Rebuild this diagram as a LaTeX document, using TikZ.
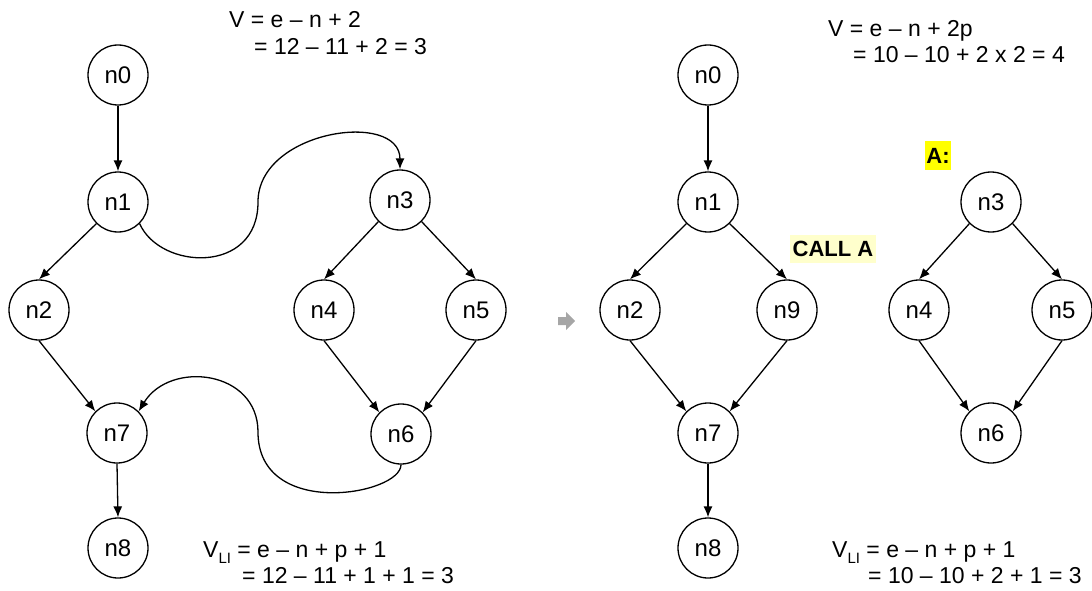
\documentclass[tikz,border=0pt]{standalone}
\usepackage{fontspec}
\setmainfont{Liberation Sans}
\usetikzlibrary{arrows.meta}
\newcommand{\vli}{V\raisebox{-0.28em}{\fontsize{15}{15}\selectfont LI}}
\begin{document}
\begin{tikzpicture}[x=1pt,y=-1pt,
  vertex/.style={circle,draw,line width=1.3pt,minimum size=60pt,inner sep=0pt,
                 font=\fontsize{24}{28}\selectfont},
  edge/.style={line width=1.3pt,-{Latex[length=11pt,width=9pt]}},
  formula/.style={anchor=base west,inner sep=0pt,font=\fontsize{23}{27}\selectfont},
  tag/.style={inner ysep=0pt,inner xsep=3pt,minimum height=28pt,
              font=\bfseries\fontsize{22}{26}\selectfont}]
\useasboundingbox (0,0) rectangle (1092,591);

% ---------- original flow graph ----------
\node[vertex] (a0) at (118,75)  {n0};
\node[vertex] (a1) at (118,202) {n1};
\node[vertex] (a2) at (39,310)  {n2};
\node[vertex] (a7) at (117,433) {n7};
\node[vertex] (a8) at (118,548) {n8};
\node[vertex] (a3) at (400,200) {n3};
\node[vertex] (a4) at (324,310) {n4};
\node[vertex] (a5) at (476,310) {n5};
\node[vertex] (a6) at (401,434) {n6};

\draw[edge] (a0.south) -- (a1.north);
\draw[edge] (a1.south west) -- (a2.north);
\draw[edge] (a2.south) -- (a7.north west);
\draw[edge] (a7.south) -- (a8.north);
\draw[edge] (a3.south west) -- (a4.north);
\draw[edge] (a3.south east) -- (a5.north);
\draw[edge] (a4.south) -- (a6.north west);
\draw[edge] (a5.south) -- (a6.north east);
\draw[edge] (a1.south east) .. controls (160,270) and (258,275) .. (258,202)
                            .. controls (258,130) and (400,110) .. (a3.north);
\draw[edge] (a6.south) .. controls (401,495) and (258,520) .. (258,432)
                       .. controls (258,370) and (170,360) .. (a7.north east);

\node[formula] (f1) at (229,28) {V = e – n + 2};
\node[formula] (f2) at (254,55) {= 12 – 11 + 2 = 3};
\node[formula] (f3) at (203,557) {\vli{} = e – n + p + 1};
\node[formula] (f4) at (242,583) {= 12 – 11 + 1 + 1 = 3};

% ---------- transformation arrow ----------
\fill[gray!70] (558,317) -- (566,317) -- (566,312) -- (575,321)
               -- (566,330) -- (566,325) -- (558,325) -- cycle;

% ---------- graph with call node ----------
\node[vertex] (b0) at (708,75)  {n0};
\node[vertex] (b1) at (708,202) {n1};
\node[vertex] (b2) at (630,310) {n2};
\node[vertex] (b9) at (787,310) {n9};
\node[vertex] (b7) at (708,433) {n7};
\node[vertex] (b8) at (708,548) {n8};

\draw[edge] (b0.south) -- (b1.north);
\draw[edge] (b1.south west) -- (b2.north);
\draw[edge] (b1.south east) -- (b9.north);
\draw[edge] (b2.south) -- (b7.north west);
\draw[edge] (b9.south) -- (b7.north east);
\draw[edge] (b7.south) -- (b8.north);

\node[tag,fill={rgb,255:red,255;green,255;blue,204}] (call) at (833,249) {CALL A};

% ---------- subgraph A ----------
\node[tag,fill={rgb,255:red,255;green,255;blue,0},inner xsep=1.5pt] (lab) at (938,155.5) {A:};
\node[vertex] (c3) at (991,202)  {n3};
\node[vertex] (c4) at (919,310)  {n4};
\node[vertex] (c5) at (1062,310) {n5};
\node[vertex] (c6) at (991,433)  {n6};

\draw[edge] (c3.south west) -- (c4.north);
\draw[edge] (c3.south east) -- (c5.north);
\draw[edge] (c4.south) -- (c6.north west);
\draw[edge] (c5.south) -- (c6.north east);

\node[formula] (g1) at (828,37) {V = e – n + 2p};
\node[formula] (g2) at (853,63) {= 10 – 10 + 2 x 2 = 4};
\node[formula] (g3) at (832,557) {\vli{} = e – n + p + 1};
\node[formula] (g4) at (868,583) {= 10 – 10 + 2 + 1 = 3};
\end{tikzpicture}
\end{document}
